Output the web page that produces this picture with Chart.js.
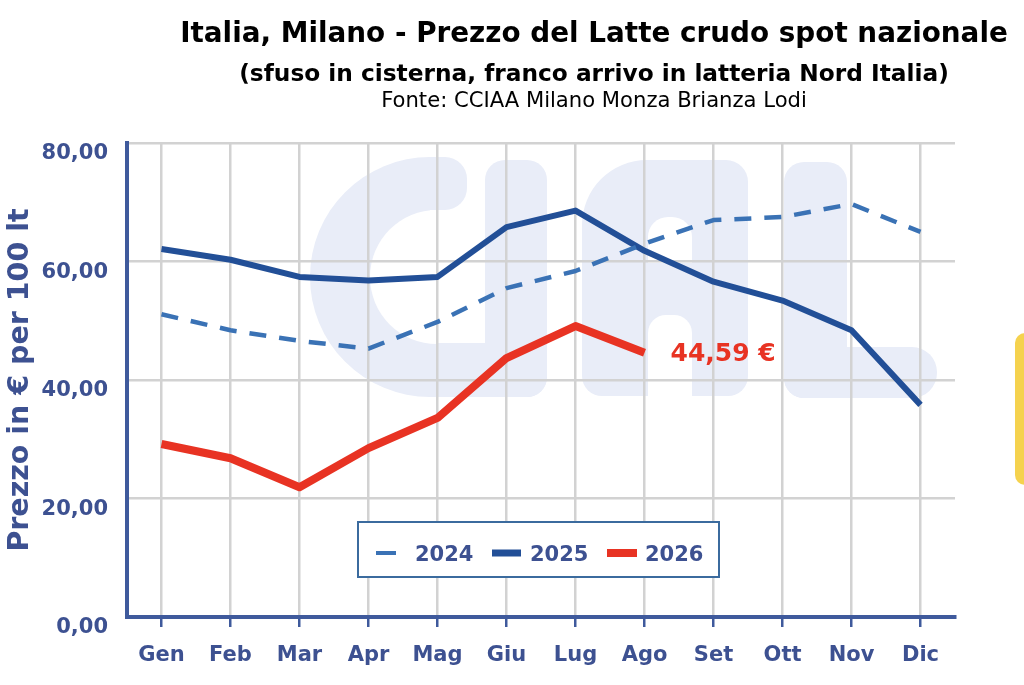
<!DOCTYPE html>
<html>
<head>
<meta charset="utf-8">
<script src="https://cdn.jsdelivr.net/npm/chart.js@4"></script>
<style>
  html, body { margin:0; padding:0; background:#fff; }
  #wrap { position:relative; width:1024px; height:685px; overflow:hidden; }
  #c { position:absolute; left:0; top:0; }
  .t { position:absolute; color:#000; white-space:nowrap; line-height:1; transform:translate(-50%,-50%); left:594px; }
  #t1 { top:32px; font:bold 27px "DejaVu Sans", Verdana, sans-serif; }
  #t2 { top:72px; font:bold 21px "DejaVu Sans", Verdana, sans-serif; }
  #t3 { top:99px; font:18px "DejaVu Sans", Verdana, sans-serif; }
  #side { position:absolute; left:1015px; top:333px; width:24px; height:152px; border-radius:10px; background:#f5d24e; }
</style>
</head>
<body>
<div id="wrap">
  <canvas id="c" width="1024" height="685"></canvas>
  <div class="t" id="t1">Italia, Milano - Prezzo del Latte crudo spot nazionale</div>
  <div class="t" id="t2">(sfuso in cisterna, franco arrivo in latteria Nord Italia)</div>
  <div class="t" id="t3">Fonte: CCIAA Milano Monza Brianza Lodi</div>
  <div id="side"></div>
</div>
<script>
const months = ["Gen","Feb","Mar","Apr","Mag","Giu","Lug","Ago","Set","Ott","Nov","Dic"];
const yTicks = [0, 20, 40, 60, 80];
const series2024 = [51.1, 48.4, 46.6, 45.3, 49.8, 55.5, 58.4, 63.0, 67.0, 67.5, 69.7, 65.0];
const series2025 = [62.1, 60.3, 57.4, 56.8, 57.4, 65.8, 68.6, 61.8, 56.6, 53.4, 48.4, 35.8];
const series2026 = [29.2, 26.8, 21.9, 28.5, 33.6, 43.7, 49.1, 44.59];
const lastLabel = "44,59 €";
const yTitle = "Prezzo in € per 100 lt";

const TXT = '#3d5191';
const AXIS = '#3f5a9c';
const FONT = '"DejaVu Sans", Verdana, sans-serif';

// fit title lines to the reference widths
function fitWidth(id, target) {
  const el = document.getElementById(id);
  const fs = parseFloat(getComputedStyle(el).fontSize);
  const w = el.getBoundingClientRect().width;
  el.style.fontSize = (fs * target / w).toFixed(2) + 'px';
}
fitWidth('t1', 828);
fitWidth('t2', 710);
fitWidth('t3', 426);

const watermark = {
  id: 'watermark',
  beforeDraw(chart) {
    const ctx = chart.ctx;
    ctx.save();
    ctx.fillStyle = '#e9edf8';
    // C
    ctx.beginPath(); ctx.arc(430, 277, 120, Math.PI/2, Math.PI*1.5); ctx.closePath(); ctx.fill();
    ctx.beginPath(); ctx.roundRect(428, 157, 39, 53, [0, 22, 22, 0]); ctx.fill();
    ctx.beginPath(); ctx.roundRect(428, 343, 119, 54, [0, 0, 20, 0]); ctx.fill();
    // I
    ctx.beginPath(); ctx.roundRect(485, 160, 62, 237, 20); ctx.fill();
    // A
    ctx.beginPath(); ctx.roundRect(582, 160, 166, 236, [65, 22, 20, 20]); ctx.fill();
    // L
    ctx.beginPath(); ctx.roundRect(784, 162, 63, 236, [20, 20, 0, 20]); ctx.fill();
    ctx.beginPath(); ctx.roundRect(784, 347, 153, 51, [0, 25, 25, 20]); ctx.fill();
    // holes
    ctx.fillStyle = '#ffffff';
    ctx.beginPath(); ctx.arc(437, 277, 67, Math.PI/2, Math.PI*1.5); ctx.closePath(); ctx.fill();
    ctx.fillRect(436, 210, 49, 133);
    ctx.beginPath(); ctx.roundRect(648, 217, 44, 46, [20, 20, 0, 0]); ctx.fill();
    ctx.beginPath(); ctx.roundRect(648, 315, 44, 90, [18, 18, 0, 0]); ctx.fill();
    ctx.restore();
  }
};

const extras = {
  id: 'extras',
  afterDraw(chart) {
    const ctx = chart.ctx;
    const xs = chart.scales.x, ys = chart.scales.y;
    ctx.save();
    // last value label
    const li = series2026.length - 1;
    ctx.fillStyle = '#e83323';
    ctx.font = 'bold 25px ' + FONT;
    ctx.textBaseline = 'middle';
    ctx.textAlign = 'left';
    ctx.fillText(lastLabel, xs.getPixelForValue(li) + 26, ys.getPixelForValue(series2026[li]) + 2);
    // legend
    ctx.fillStyle = '#fff';
    ctx.fillRect(358, 522, 361, 55);
    ctx.strokeStyle = '#3b6b9e';
    ctx.lineWidth = 2;
    ctx.strokeRect(358, 522, 361, 55);
    const items = [
      {ds: 0, x0: 376, x1: 396, w: 4, tx: 415},
      {ds: 1, x0: 492, x1: 521, w: 7, tx: 530},
      {ds: 2, x0: 607, x1: 637, w: 8, tx: 645}
    ];
    const yy = 553;
    ctx.font = 'bold 21px ' + FONT;
    items.forEach(it => {
      const d = chart.data.datasets[it.ds];
      ctx.strokeStyle = d.borderColor;
      ctx.lineWidth = it.w;
      ctx.lineCap = 'butt';
      ctx.beginPath(); ctx.moveTo(it.x0, yy); ctx.lineTo(it.x1, yy); ctx.stroke();
      ctx.fillStyle = TXT;
      ctx.fillText(d.label, it.tx, yy + 3);
    });
    ctx.restore();
  }
};

new Chart(document.getElementById('c'), {
  type: 'line',
  data: {
    labels: months,
    datasets: [
      { label: '2024', data: series2024, borderColor: '#3a72b5', borderWidth: 4.5, borderDash: [17, 13], pointRadius: 0, tension: 0, borderJoinStyle: 'round' },
      { label: '2025', data: series2025, borderColor: '#224f97', borderWidth: 6, pointRadius: 0, tension: 0, borderJoinStyle: 'round' },
      { label: '2026', data: series2026, borderColor: '#e83323', borderWidth: 8, pointRadius: 0, tension: 0, borderJoinStyle: 'round' }
    ]
  },
  options: {
    responsive: false,
    animation: false,
    layout: { padding: { left: 0, right: 69, top: 143, bottom: 0 } },
    plugins: { legend: { display: false }, tooltip: { enabled: false }, title: { display: false } },
    scales: {
      x: {
        offset: true,
        grid: { color: '#d2d2d2', lineWidth: 2.5, offset: false, drawTicks: true, tickLength: 10, tickColor: AXIS, tickWidth: 2.5 },
        border: { display: true, color: AXIS, width: 4 },
        ticks: { color: TXT, font: { family: FONT, size: 21, weight: 'bold' }, padding: 16, maxRotation: 0, autoSkip: false },
        afterFit(s) { s.height = 68; }
      },
      y: {
        min: 0, max: 80,
        afterBuildTicks(s) { s.ticks = yTicks.map(v => ({ value: v })); },
        grid: { color: '#d2d2d2', lineWidth: 2.5, drawTicks: false },
        border: { display: true, color: AXIS, width: 4 },
        ticks: { color: TXT, font: { family: FONT, size: 21, weight: 'bold' }, padding: 19, labelOffset: 11,
                 callback: v => v.toFixed(2).replace('.', ',') },
        title: { display: true, text: yTitle, color: TXT, font: { family: FONT, size: 28.5, weight: 'bold' }, padding: { top: 3, bottom: 0 } },
        afterFit(s) { s.width = 127; }
      }
    }
  },
  plugins: [watermark, extras]
});
</script>
</body>
</html>
